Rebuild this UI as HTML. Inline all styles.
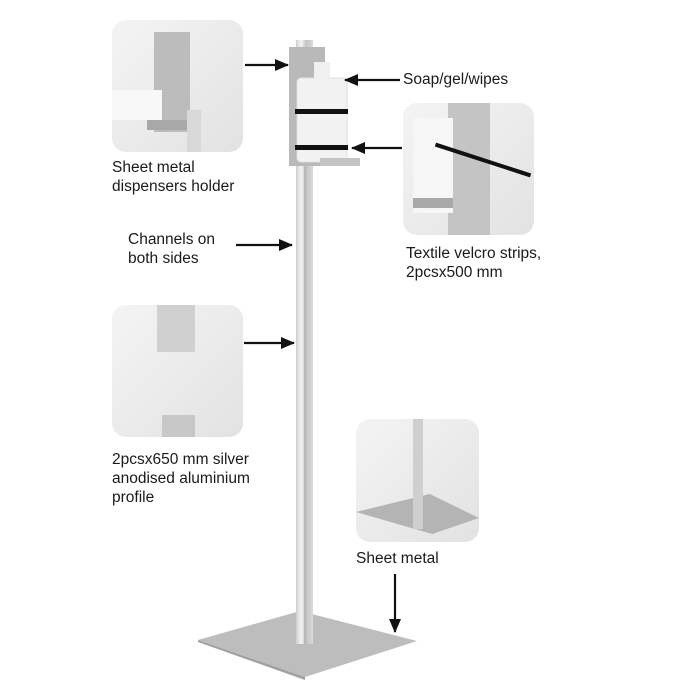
<!DOCTYPE html>
<html><head><style>
body{margin:0;width:700px;height:700px;background:#fff;overflow:hidden;position:relative;font-family:"Liberation Sans",sans-serif;color:#1a1a1a}
.t{position:absolute;font-size:15.5px;line-height:19px;white-space:nowrap}
.p{position:absolute;border-radius:14px;background:linear-gradient(135deg,#f4f4f4,#e2e2e2);overflow:hidden}
</style></head><body>
<svg width="700" height="700" style="position:absolute;left:0;top:0">
<defs>
<linearGradient id="pole" x1="0" x2="1"><stop offset="0" stop-color="#cfcfcf"/><stop offset=".3" stop-color="#f4f4f4"/><stop offset=".6" stop-color="#c4c4c4"/><stop offset="1" stop-color="#dadada"/></linearGradient>
<marker id="a" markerWidth="14" markerHeight="14" refX="13" refY="7" orient="auto" markerUnits="userSpaceOnUse"><path d="M0,1 L14,7 L0,13 Z" fill="#111"/></marker>
</defs>
<polygon points="198,640 300,611 417,641 305,677" fill="#bdbdbd"/>
<polygon points="198,640 305,677 305,680 198,642" fill="#a0a0a0"/>
<rect x="296" y="40" width="17" height="604" fill="url(#pole)"/>
<line x1="305" y1="165" x2="305" y2="644" stroke="#a0a0a0" stroke-width="1"/>
<rect x="289" y="47" width="36" height="119" fill="#b9b9b9"/>
<rect x="297" y="78" width="50" height="84" rx="4" fill="#f2f2f2" stroke="#ddd"/>
<rect x="314" y="62" width="16" height="18" fill="#f0f0f0"/>
<rect x="295" y="109" width="53" height="5" fill="#111"/>
<rect x="295" y="145" width="53" height="5" fill="#111"/>
<rect x="320" y="158" width="40" height="8" fill="#c4c4c4"/>
<g stroke="#111" stroke-width="2.2">
<line x1="245" y1="65" x2="288" y2="65" marker-end="url(#a)"/>
<line x1="400" y1="80" x2="345" y2="80" marker-end="url(#a)"/>
<line x1="402" y1="148" x2="352" y2="148" marker-end="url(#a)"/>
<line x1="236" y1="245" x2="292" y2="245" marker-end="url(#a)"/>
<line x1="244" y1="343" x2="294" y2="343" marker-end="url(#a)"/>
<line x1="395" y1="574" x2="395" y2="632" marker-end="url(#a)"/>
</g>
</svg>
<div class="p" style="left:112px;top:20px;width:131px;height:132px">
 <div style="position:absolute;left:42px;top:12px;width:36px;height:100px;background:#bcbcbc"></div>
 <div style="position:absolute;left:0;top:70px;width:50px;height:30px;background:#f8f8f8"></div>
 <div style="position:absolute;left:35px;top:100px;width:50px;height:10px;background:#a8a8a8"></div>
 <div style="position:absolute;left:75px;top:90px;width:14px;height:42px;background:#d8d8d8"></div>
</div>
<div class="p" style="left:403px;top:103px;width:131px;height:132px">
 <div style="position:absolute;left:45px;top:0;width:42px;height:132px;background:#c4c4c4"></div>
 <div style="position:absolute;left:10px;top:15px;width:40px;height:95px;background:#f6f6f6"></div>
 <div style="position:absolute;left:10px;top:95px;width:40px;height:10px;background:#a8a8a8"></div>
 <div style="position:absolute;left:30px;top:55px;width:100px;height:4px;background:#111;transform:rotate(18deg)"></div>
</div>
<div class="p" style="left:112px;top:305px;width:131px;height:132px">
 <div style="position:absolute;left:45px;top:0;width:38px;height:47px;background:#d0d0d0"></div>
 <div style="position:absolute;left:50px;top:110px;width:33px;height:22px;background:#c8c8c8"></div>
</div>
<div class="p" style="left:356px;top:419px;width:123px;height:123px">
 <div style="position:absolute;left:0;top:75px;width:123px;height:40px;background:#b4b4b4;clip-path:polygon(0 45%,60% 0,100% 60%,62% 100%)"></div>
 <div style="position:absolute;left:57px;top:0;width:10px;height:110px;background:#cfcfcf"></div>
</div>
<div class="t" style="left:112px;top:158px">Sheet metal<br>dispensers holder</div>
<div class="t" style="left:403px;top:70px">Soap/gel/wipes</div>
<div class="t" style="left:128px;top:230px">Channels on<br>both sides</div>
<div class="t" style="left:406px;top:244px">Textile velcro strips,<br>2pcsx500 mm</div>
<div class="t" style="left:112px;top:450px">2pcsx650 mm silver<br>anodised aluminium<br>profile</div>
<div class="t" style="left:356px;top:549px">Sheet metal</div>
</body></html>
